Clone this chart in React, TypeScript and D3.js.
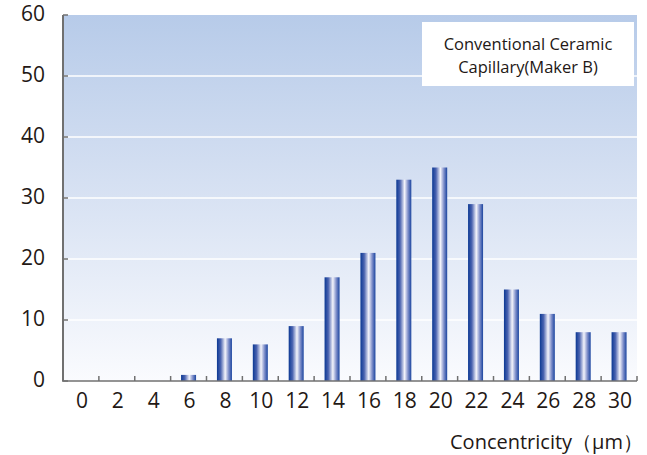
import React from "react";
import * as d3 from "d3";

const categories: number[] = [0, 2, 4, 6, 8, 10, 12, 14, 16, 18, 20, 22, 24, 26, 28, 30];
const counts: number[] = [0, 0, 0, 1, 7, 6, 9, 17, 21, 33, 35, 29, 15, 11, 8, 8];
const yTicks: number[] = [0, 10, 20, 30, 40, 50, 60];
const legendLines: string[] = ["Conventional Ceramic", "Capillary(Maker B)"];
const xTitle = "Concentricity（μm）";

const W = 647;
const H = 455;
const left = 63;
const right = 637;
const top = 15;
const bottom = 381;
const font = "'Open Sans', 'Noto Sans', sans-serif";

export default function App() {
  const x = d3
    .scaleBand<number>()
    .domain(categories)
    .range([left, right])
    .paddingInner(0)
    .paddingOuter(0);
  const y = d3.scaleLinear().domain([0, 60]).range([bottom, top]);
  const bw = 15;
  const boundaries = categories.map((c) => (x(c) as number) + x.bandwidth());
  const axisColor = "#707070";

  return (
    <svg width={W} height={H} style={{ position: "absolute", left: 0, top: 0 }}>
      <defs>
        <linearGradient id="bg" x1="0" y1="0" x2="0" y2="1">
          <stop offset="0" stopColor="#b7cbe9" />
          <stop offset="0.5" stopColor="#d8e2f3" />
          <stop offset="1" stopColor="#fafbfe" />
        </linearGradient>
        <linearGradient id="bar" x1="0" y1="0" x2="1" y2="0">
          <stop offset="0" stopColor="#0b3893" />
          <stop offset="0.25" stopColor="#4a63b0" />
          <stop offset="0.55" stopColor="#f4f4fb" />
          <stop offset="0.78" stopColor="#7f8fca" />
          <stop offset="1" stopColor="#1a449f" />
        </linearGradient>
      </defs>
      <rect x={0} y={0} width={W} height={H} fill="#ffffff" />
      <rect x={left} y={top} width={right - left} height={bottom - top} fill="url(#bg)" />
      {yTicks
        .filter((t) => t > 0 && t < 60)
        .map((t) => (
          <line key={"g" + t} x1={left} x2={right} y1={y(t)} y2={y(t)} stroke="#ffffff" strokeWidth={1.5} />
        ))}
      {categories.map((c, i) =>
        counts[i] > 0 ? (
          <rect
            key={"b" + c}
            x={(x(c) as number) + x.bandwidth() / 2 - bw / 2}
            y={y(counts[i])}
            width={bw}
            height={bottom - y(counts[i])}
            fill="url(#bar)"
          />
        ) : null
      )}
      <line x1={left} x2={left} y1={top} y2={bottom} stroke={axisColor} strokeWidth={2} />
      <line x1={left - 1} x2={right} y1={bottom} y2={bottom} stroke={axisColor} strokeWidth={1.5} />
      {yTicks.map((t) => (
        <line key={"yt" + t} x1={left} x2={left + 5} y1={y(t)} y2={y(t)} stroke={axisColor} strokeWidth={1.5} />
      ))}
      {boundaries.map((b, i) => (
        <line key={"xt" + i} x1={b} x2={b} y1={bottom} y2={bottom - 5} stroke={axisColor} strokeWidth={1.5} />
      ))}
      {yTicks.map((t) => (
        <text
          key={"yl" + t}
          x={45}
          y={y(t) + 6}
          textAnchor="end"
          fontFamily={font}
          fontSize={21}
          fill="#231815"
        >
          {t}
        </text>
      ))}
      {categories.map((c) => (
        <text
          key={"xl" + c}
          x={(x(c) as number) + x.bandwidth() / 2 + 1}
          y={408}
          textAnchor="middle"
          fontFamily={font}
          fontSize={21}
          fill="#231815"
        >
          {c}
        </text>
      ))}
      <text x={643} y={449} textAnchor="end" fontFamily={font} fontSize={20} fill="#231815">
        {xTitle}
      </text>
      <rect x={422} y={22} width={212} height={64} fill="#ffffff" />
      {legendLines.map((l, i) => (
        <text
          key={"lg" + i}
          x={528}
          y={50 + i * 23}
          textAnchor="middle"
          fontFamily={font}
          fontSize={16.5}
          fill="#231815"
        >
          {l}
        </text>
      ))}
    </svg>
  );
}
